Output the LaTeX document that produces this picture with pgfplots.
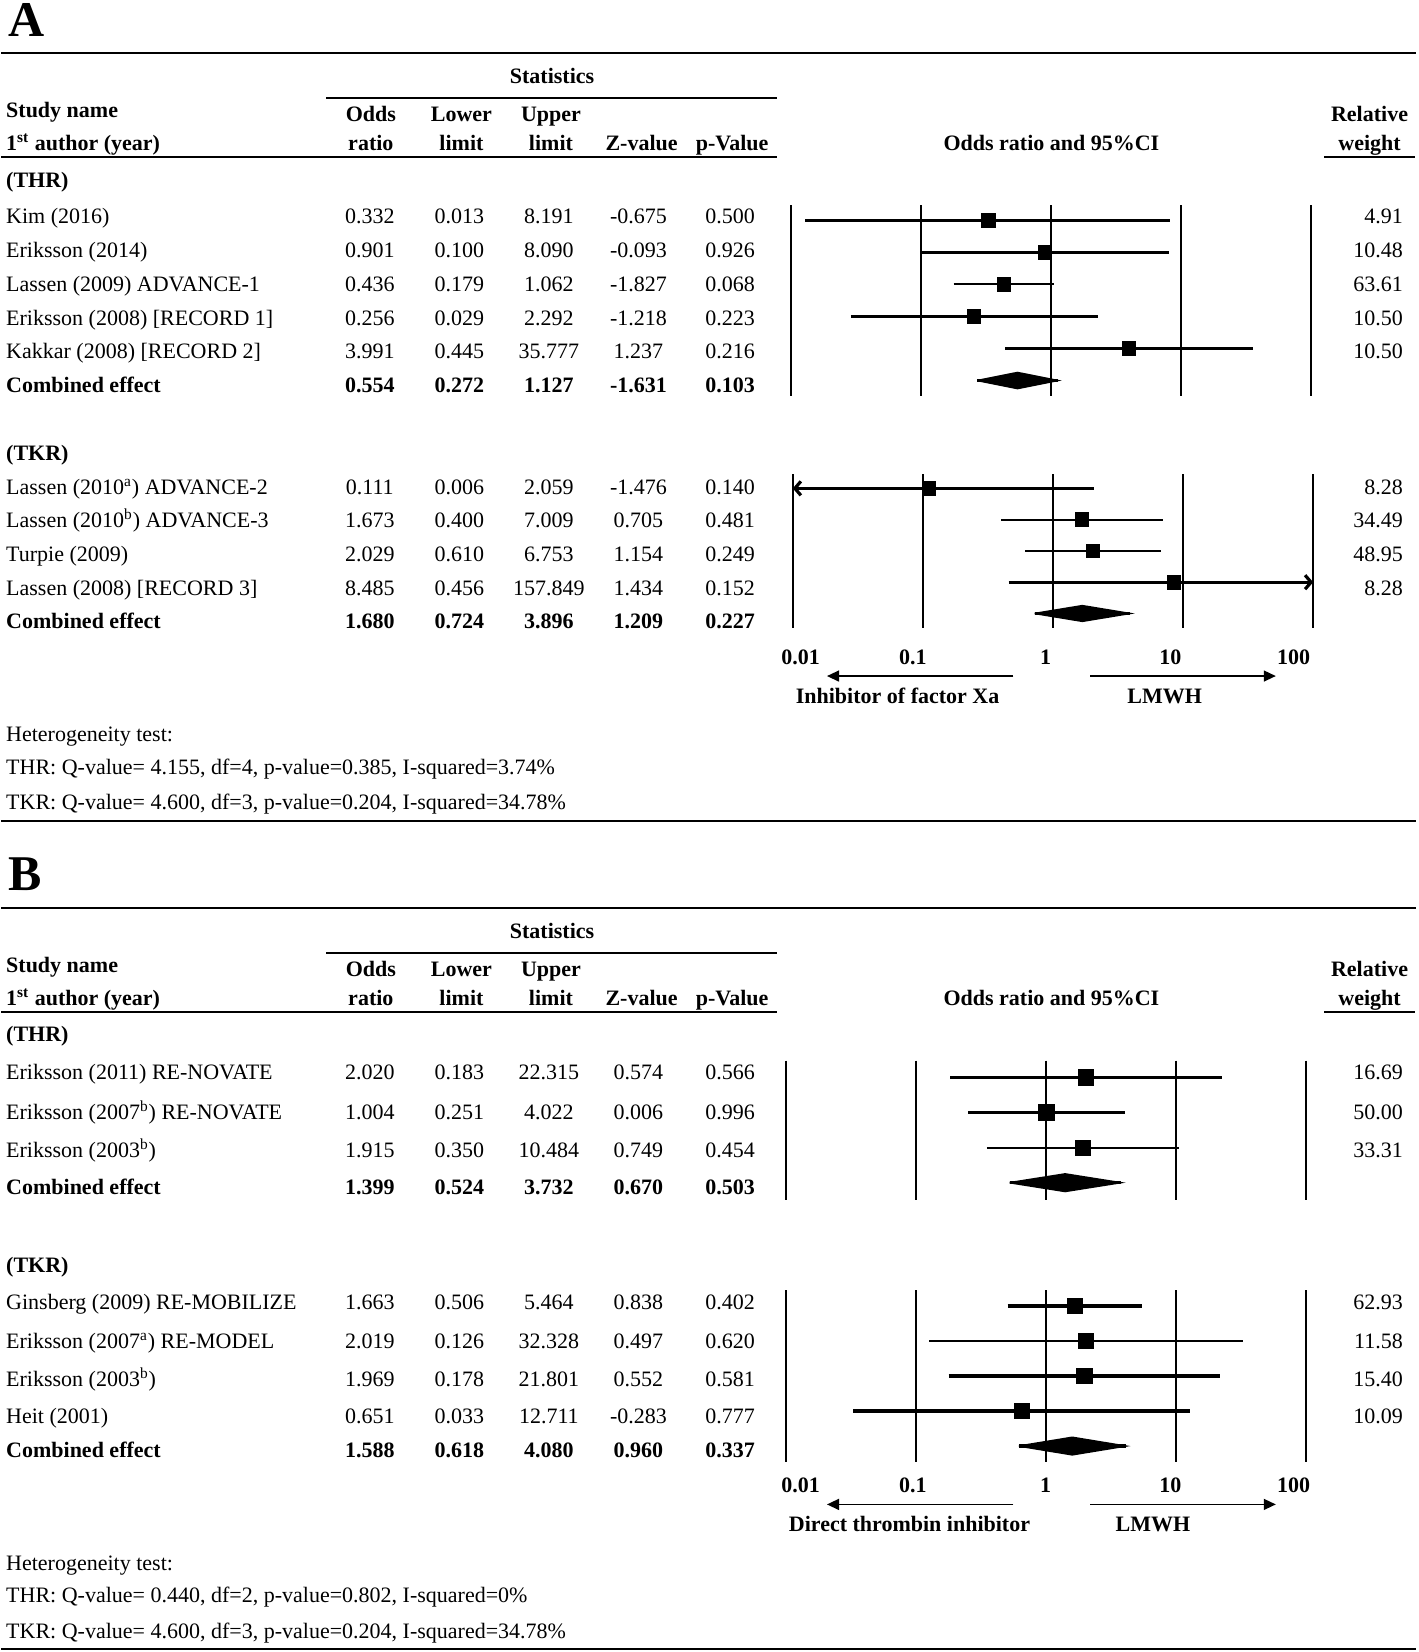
\documentclass[border=0pt]{standalone}
\usepackage{fontspec}
\setmainfont{Liberation Serif}
\usepackage{pgfplots}
\pgfplotsset{compat=1.18}
\usetikzlibrary{arrows.meta}

\newcommand\fs{\fontsize{11}{13}\selectfont}
\newcommand\msz{3.4pt}

% row, odds ratio, lower, upper, line width
\newcommand\study[5]{%
  \addplot[black, line width=#5] coordinates {(#3,#1) (#4,#1)};
  \addplot[black, only marks, mark=square*, mark size=\msz] coordinates {(#2,#1)};
}

% text rows: baseline y, name, or, lo, hi, z, p, weight
\newcommand\trow[8]{%
  \node[tx,anchor=base west] at (5.5,#1) {#2};
  \node[tx,anchor=base] at (351,#1) {#3};
  \node[tx,anchor=base] at (436,#1) {#4};
  \node[tx,anchor=base] at (521,#1) {#5};
  \node[tx,anchor=base] at (606,#1) {#6};
  \node[tx,anchor=base] at (693,#1) {#7};
  \node[tx,anchor=base east] at (1332,#1) {#8};
}
\newcommand\crow[6]{%
  \node[tb,anchor=base west] at (5.5,#1) {Combined effect};
  \node[tb,anchor=base] at (351,#1) {#2};
  \node[tb,anchor=base] at (436,#1) {#3};
  \node[tb,anchor=base] at (521,#1) {#4};
  \node[tb,anchor=base] at (606,#1) {#5};
  \node[tb,anchor=base] at (693,#1) {#6};
}
% header block, top line y
\newcommand\theader[1]{%
  \begin{scope}[shift={(0,#1)}]
  \draw[line width=0.9pt] (1,0) -- (1344,0);
  \node[tb,anchor=base] at (524,28.5) {Statistics};
  \draw[line width=0.9pt] (309.5,42.7) -- (738,42.7);
  \node[tb,anchor=base west] at (5.5,60.9) {Study name};
  \node[tb,anchor=base] at (352,64.9) {Odds};
  \node[tb,anchor=base] at (438,64.9) {Lower};
  \node[tb,anchor=base] at (523,64.9) {Upper};
  \node[tb,anchor=base] at (1300,64.9) {Relative};
  \node[tb,anchor=base west] at (5.5,92.4) {1\textsuperscript{st} author (year)};
  \node[tb,anchor=base] at (352,92.4) {ratio};
  \node[tb,anchor=base] at (438,92.4) {limit};
  \node[tb,anchor=base] at (523,92.4) {limit};
  \node[tb,anchor=base] at (609,92.4) {Z-value};
  \node[tb,anchor=base] at (695,92.4) {p-Value};
  \node[tb,anchor=base] at (998,92.4) {Odds ratio and 95\%CI};
  \node[tb,anchor=base] at (1300,92.4) {weight};
  \draw[line width=0.9pt] (1,98.6) -- (738,98.6);
  \draw[line width=0.9pt] (1257,98.6) -- (1343,98.6);
  \end{scope}
}
% tick baseline y, arrow y, label baseline y, left text, left x, right x
\newcommand\orscale[6]{%
  \node[tb,anchor=base] at (760,#1) {0.01};
  \node[tb,anchor=base] at (866.5,#1) {0.1};
  \node[tb,anchor=base] at (992.5,#1) {1};
  \node[tb,anchor=base] at (1111,#1) {10};
  \node[tb,anchor=base] at (1228,#1) {100};
  \draw[line width=0.7pt, -{Triangle[length=6pt,width=5.5pt]}] (962,#2) -- (785,#2);
  \draw[line width=0.7pt, -{Triangle[length=6pt,width=5.5pt]}] (1035,#2) -- (1211,#2);
  \node[tb,anchor=base] at (#5,#3) {#4};
  \node[tb,anchor=base] at (#6,#3) {LMWH};
}

\begin{document}
\begin{tikzpicture}[x=0.52675pt, y=-0.52675pt,
  tx/.style={inner sep=0pt, font=\fs},
  tb/.style={inner sep=0pt, font=\fs\bfseries}]

% ================= Panel A =================
\node[inner sep=0pt, anchor=base west, font=\fontsize{25}{25}\selectfont\bfseries] at (8,35) {A};
\theader{50.6}
\node[tb,anchor=base west] at (5.5,177.5) {(THR)};
\trow{212.5}{Kim (2016)}{0.332}{0.013}{8.191}{-0.675}{0.500}{4.91}
\trow{244.5}{Eriksson (2014)}{0.901}{0.100}{8.090}{-0.093}{0.926}{10.48}
\trow{276.5}{Lassen (2009) ADVANCE-1}{0.436}{0.179}{1.062}{-1.827}{0.068}{63.61}
\trow{308.5}{Eriksson (2008) [RECORD 1]}{0.256}{0.029}{2.292}{-1.218}{0.223}{10.50}
\trow{340.5}{Kakkar (2008) [RECORD 2]}{3.991}{0.445}{35.777}{1.237}{0.216}{10.50}
\crow{372.5}{0.554}{0.272}{1.127}{-1.631}{0.103}

\node[tb,anchor=base west] at (5.5,437.3) {(TKR)};
\trow{469}{Lassen (2010\textsuperscript{a}) ADVANCE-2}{0.111}{0.006}{2.059}{-1.476}{0.140}{8.28}
\trow{501}{Lassen (2010\textsuperscript{b}) ADVANCE-3}{1.673}{0.400}{7.009}{0.705}{0.481}{34.49}
\trow{533}{Turpie (2009)}{2.029}{0.610}{6.753}{1.154}{0.249}{48.95}
\trow{565}{Lassen (2008) [RECORD 3]}{8.485}{0.456}{157.849}{1.434}{0.152}{8.28}
\crow{597}{1.680}{0.724}{3.896}{1.209}{0.227}

\orscale{630.5}{641.7}{667.6}{Inhibitor of factor Xa}{852}{1105.5}

\node[tx,anchor=base west] at (5.5,704) {Heterogeneity test:};
\node[tx,anchor=base west] at (5.5,735) {THR: Q-value= 4.155, df=4, p-value=0.385, I-squared=3.74\%};
\node[tx,anchor=base west] at (5.5,768.5) {TKR: Q-value= 4.600, df=3, p-value=0.204, I-squared=34.78\%};
\draw[line width=0.9pt] (1,779) -- (1344,779);

\coordinate (a1) at (750.5,195);
\begin{axis}[scale only axis, xmode=log, xmin=0.01, xmax=100,
  width=260.21pt, y dir=reverse, anchor=north west,
  xtick={0.01,0.1,1,10,100}, xticklabels={,,,,}, ytick=\empty,
  xminorticks=false, minor tick length=0pt,
  xmajorgrids, major grid style={black, line width=1.1pt},
  axis line style={draw=none}, major tick length=0pt, clip=false,
  at={(a1)}, height=95.34pt, ymin=0.54, ymax=6.486]
  \study{1}{0.332}{0.013}{8.191}{1.6pt}
  \study{2}{0.901}{0.100}{8.090}{1.6pt}
  \study{3}{0.436}{0.179}{1.062}{1pt}
  \study{4}{0.256}{0.029}{2.292}{1.6pt}
  \study{5}{3.991}{0.445}{35.777}{1.6pt}
  \addplot[black, line width=1.6pt] coordinates {(0.272,6) (1.127,6)};
  \addplot[black, fill=black, line width=0.8pt] coordinates {(0.272,6) (0.554,5.75) (1.127,6) (0.554,6.25) (0.272,6)};
\end{axis}

\coordinate (a2) at (752.5,450);
\begin{axis}[scale only axis, xmode=log, xmin=0.01, xmax=100,
  width=260.21pt, y dir=reverse, anchor=north west,
  xtick={0.01,0.1,1,10,100}, xticklabels={,,,,}, ytick=\empty,
  xminorticks=false, minor tick length=0pt,
  xmajorgrids, major grid style={black, line width=1.1pt},
  axis line style={draw=none}, major tick length=0pt, clip=false,
  at={(a2)}, height=76.91pt, ymin=0.545, ymax=5.461]
  \addplot[black, line width=1.6pt, -{Straight Barb[length=3pt,width=7pt]}] coordinates {(2.059,1) (0.01,1)};
  \addplot[black, only marks, mark=square*, mark size=\msz] coordinates {(0.111,1)};
  \study{2}{1.673}{0.400}{7.009}{1pt}
  \study{3}{2.029}{0.610}{6.753}{1.3pt}
  \addplot[black, line width=1.6pt, -{Straight Barb[length=3pt,width=7pt]}] coordinates {(0.456,4) (100,4)};
  \addplot[black, only marks, mark=square*, mark size=\msz] coordinates {(8.485,4)};
  \addplot[black, line width=1.6pt] coordinates {(0.724,5) (3.896,5)};
  \addplot[black, fill=black, line width=0.8pt] coordinates {(0.724,5) (1.680,4.75) (3.896,5) (1.680,5.25) (0.724,5)};
\end{axis}

% ================= Panel B =================
\renewcommand\msz{3.8pt}
\node[inner sep=0pt, anchor=base west, font=\fontsize{25}{25}\selectfont\bfseries] at (8,845) {B};
\theader{862.2}
\node[tb,anchor=base west] at (5.5,988.8) {(THR)};
\trow{1025}{Eriksson (2011) RE-NOVATE}{2.020}{0.183}{22.315}{0.574}{0.566}{16.69}
\trow{1063}{Eriksson (2007\textsuperscript{b}) RE-NOVATE}{1.004}{0.251}{4.022}{0.006}{0.996}{50.00}
\trow{1098.5}{Eriksson (2003\textsuperscript{b})}{1.915}{0.350}{10.484}{0.749}{0.454}{33.31}
\crow{1133.5}{1.399}{0.524}{3.732}{0.670}{0.503}

\node[tb,anchor=base west] at (5.5,1207.5) {(TKR)};
\trow{1243}{Ginsberg (2009) RE-MOBILIZE}{1.663}{0.506}{5.464}{0.838}{0.402}{62.93}
\trow{1280}{Eriksson (2007\textsuperscript{a}) RE-MODEL}{2.019}{0.126}{32.328}{0.497}{0.620}{11.58}
\trow{1316}{Eriksson (2003\textsuperscript{b})}{1.969}{0.178}{21.801}{0.552}{0.581}{15.40}
\trow{1351}{Heit (2001)}{0.651}{0.033}{12.711}{-0.283}{0.777}{10.09}
\crow{1383.5}{1.588}{0.618}{4.080}{0.960}{0.337}

\orscale{1417}{1428}{1454}{Direct thrombin inhibitor}{863.3}{1094.4}

\node[tx,anchor=base west] at (5.5,1491) {Heterogeneity test:};
\node[tx,anchor=base west] at (5.5,1521.3) {THR: Q-value= 0.440, df=2, p-value=0.802, I-squared=0\%};
\node[tx,anchor=base west] at (5.5,1555.1) {TKR: Q-value= 4.600, df=3, p-value=0.204, I-squared=34.78\%};
\draw[line width=0.9pt] (1,1565.3) -- (1344,1565.3);

\coordinate (b1) at (746,1006.8);
\begin{axis}[scale only axis, xmode=log, xmin=0.01, xmax=100,
  width=260.21pt, y dir=reverse, anchor=north west,
  xtick={0.01,0.1,1,10,100}, xticklabels={,,,,}, ytick=\empty,
  xminorticks=false, minor tick length=0pt,
  xmajorgrids, major grid style={black, line width=1.1pt},
  axis line style={draw=none}, major tick length=0pt, clip=false,
  at={(b1)}, height=69.64pt, ymin=0.526, ymax=4.492]
  \study{1}{2.020}{0.183}{22.315}{1.6pt}
  \study{2}{1.004}{0.251}{4.022}{1.6pt}
  \study{3}{1.915}{0.350}{10.484}{1pt}
  \addplot[black, line width=1.6pt] coordinates {(0.524,4) (3.732,4)};
  \addplot[black, fill=black, line width=0.8pt] coordinates {(0.524,4) (1.399,3.75) (3.732,4) (1.399,4.25) (0.524,4)};
\end{axis}

\coordinate (b2) at (746,1224.5);
\begin{axis}[scale only axis, xmode=log, xmin=0.01, xmax=100,
  width=260.21pt, y dir=reverse, anchor=north west,
  xtick={0.01,0.1,1,10,100}, xticklabels={,,,,}, ytick=\empty,
  xminorticks=false, minor tick length=0pt,
  xmajorgrids, major grid style={black, line width=1.1pt},
  axis line style={draw=none}, major tick length=0pt, clip=false,
  at={(b2)}, height=86.12pt, ymin=0.543, ymax=5.463]
  \study{1}{1.663}{0.506}{5.464}{1.6pt}
  \study{2}{2.019}{0.126}{32.328}{1pt}
  \study{3}{1.969}{0.178}{21.801}{1.6pt}
  \study{4}{0.651}{0.033}{12.711}{1.6pt}
  \addplot[black, line width=1.6pt] coordinates {(0.618,5) (4.080,5)};
  \addplot[black, fill=black, line width=0.8pt] coordinates {(0.618,5) (1.588,4.75) (4.080,5) (1.588,5.25) (0.618,5)};
\end{axis}

\pgfresetboundingbox
\useasboundingbox (0,0) rectangle (1346,1568.1);
\end{tikzpicture}
\end{document}
